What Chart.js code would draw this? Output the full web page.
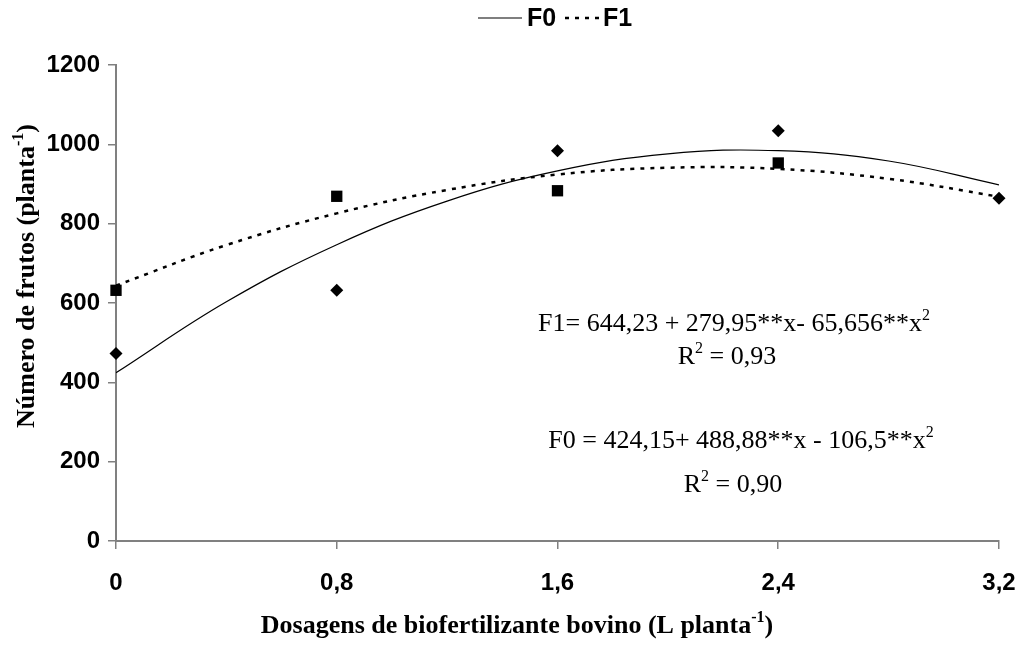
<!DOCTYPE html>
<html>
<head>
<meta charset="utf-8">
<script src="https://cdn.jsdelivr.net/npm/chart.js@4"></script>
<style>
  html, body { margin: 0; padding: 0; background: #fff; }
  #wrap { width: 1025px; height: 646px; position: relative; }
</style>
</head>
<body>
<div id="wrap"><canvas id="chart"></canvas></div>
<script>
// observed doses (L planta-1) and fruit counts
// (the F1 mark at 3,2 is hidden under the F0 diamond in the original)
const doses = [0, 0.8, 1.6, 2.4, 3.2];
const f0Obs = [473, 632, 984, 1034, 864];
const f1Obs = [632, 869, 883, 953, null];

// fitted curves, every 0.4 L
const curveX = [0, 0.4, 0.8, 1.2, 1.6, 2.0, 2.4, 2.8, 3.2];
const f0Fit = [424, 603, 747, 857, 933, 976, 984, 958, 898];
const f1Fit = [644, 746, 826, 885, 924, 941, 938, 913, 868];

const yTicks = [0, 200, 400, 600, 800, 1000, 1200];

const SANS = "'Liberation Sans', Arial, sans-serif";
const SERIF = "'Liberation Serif', 'Times New Roman', serif";
const AXIS_GREY = '#808080';

const pts = (xs, ys) => xs.map((x, i) => ({ x, y: ys[i] }));

// draw a line of text with superscript pieces, centred on cx
const drawRich = (ctx, parts, cx, y, size, weight) => {
    const base = `${weight} ${size}px ${SERIF}`;
    const sup = `${weight} ${Math.round(size * 0.62)}px ${SERIF}`;
    let total = 0;
    parts.forEach(p => {
        ctx.font = p.sup ? sup : base;
        total += ctx.measureText(p.t).width;
    });
    let x = cx - total / 2;
    ctx.textAlign = 'left';
    ctx.textBaseline = 'alphabetic';
    parts.forEach(p => {
        ctx.font = p.sup ? sup : base;
        ctx.fillText(p.t, x, p.sup ? y - size * 0.42 : y);
        x += ctx.measureText(p.t).width;
    });
};

const decorPlugin = {
    id: 'decor',
    afterDraw(chart) {
        const ctx = chart.ctx;
        ctx.save();
        ctx.fillStyle = '#000';

        // legend
        ctx.strokeStyle = '#000';
        ctx.lineWidth = 1.2;
        ctx.beginPath();
        ctx.moveTo(478, 18);
        ctx.lineTo(522, 18);
        ctx.stroke();
        ctx.font = `bold 25px ${SANS}`;
        ctx.textAlign = 'left';
        ctx.textBaseline = 'middle';
        ctx.fillText('F0', 527, 19);
        ctx.lineWidth = 2.5;
        ctx.setLineDash([4, 6]);
        ctx.beginPath();
        ctx.moveTo(565, 18);
        ctx.lineTo(601, 18);
        ctx.stroke();
        ctx.setLineDash([]);
        ctx.fillText('F1', 603, 19);

        // equations
        drawRich(ctx, [{ t: 'F1= 644,23 + 279,95**x- 65,656**x' }, { t: '2', sup: true }], 734, 331, 26, 'normal');
        drawRich(ctx, [{ t: 'R' }, { t: '2', sup: true }, { t: ' = 0,93' }], 727, 364, 26, 'normal');
        drawRich(ctx, [{ t: 'F0 = 424,15+ 488,88**x - 106,5**x' }, { t: '2', sup: true }], 741, 448, 26, 'normal');
        drawRich(ctx, [{ t: 'R' }, { t: '2', sup: true }, { t: ' = 0,90' }], 733, 492, 26, 'normal');

        // axis titles
        drawRich(ctx, [{ t: 'Dosagens de biofertilizante bovino (L planta' }, { t: '-1', sup: true }, { t: ')' }], 517, 633, 26, 'bold');
        ctx.translate(34, 276);
        ctx.rotate(-Math.PI / 2);
        drawRich(ctx, [{ t: 'Número de frutos (planta' }, { t: '-1', sup: true }, { t: ')' }], 0, 0, 26, 'bold');
        ctx.restore();
    }
};

new Chart(document.getElementById('chart'), {
    type: 'scatter',
    data: {
        datasets: [
            {
                label: 'F0',
                data: pts(doses, f0Obs),
                pointStyle: 'rectRot',
                pointRadius: 6.5,
                backgroundColor: '#000',
                borderColor: '#000',
                borderWidth: 0,
                clip: false
            },
            {
                label: 'F1',
                data: pts(doses, f1Obs),
                pointStyle: 'rect',
                pointRadius: 8,
                backgroundColor: '#000',
                borderColor: '#000',
                borderWidth: 0,
                clip: false
            },
            {
                label: 'F0 ajuste',
                type: 'line',
                data: pts(curveX, f0Fit),
                showLine: true,
                pointRadius: 0,
                borderColor: '#000',
                borderWidth: 1.2,
                tension: 0.4,
                fill: false
            },
            {
                label: 'F1 ajuste',
                type: 'line',
                data: pts(curveX, f1Fit),
                showLine: true,
                pointRadius: 0,
                borderColor: '#000',
                borderWidth: 2.5,
                borderDash: [4, 6],
                tension: 0.4,
                fill: false
            }
        ]
    },
    options: {
        responsive: true,
        maintainAspectRatio: false,
        animation: false,
        layout: { padding: { left: 0, right: 26, top: 65, bottom: 0 } },
        plugins: {
            legend: { display: false },
            tooltip: { enabled: false }
        },
        scales: {
            x: {
                type: 'linear',
                min: 0,
                max: 3.2,
                afterFit: (s) => { s.height = 105; s.paddingRight = 0; },
                afterBuildTicks: (s) => { s.ticks = doses.map(v => ({ value: v })); },
                ticks: {
                    color: '#000',
                    font: { family: SANS, size: 24, weight: 'bold' },
                    padding: 20,
                    maxRotation: 0,
                    callback: (v) => v === 0 ? '0' : v.toFixed(1).replace('.', ',')
                },
                grid: { drawOnChartArea: false, drawTicks: true, tickLength: 8, color: AXIS_GREY, lineWidth: 1.5 },
                border: { display: true, color: AXIS_GREY, width: 2 }
            },
            y: {
                min: 0,
                max: 1200,
                afterFit: (s) => { s.width = 116; },
                afterBuildTicks: (s) => { s.ticks = yTicks.map(v => ({ value: v })); },
                ticks: {
                    color: '#000',
                    font: { family: SANS, size: 24, weight: 'bold' },
                    padding: 8,
                    callback: (v) => String(v)
                },
                grid: { drawOnChartArea: false, drawTicks: true, tickLength: 8, color: AXIS_GREY, lineWidth: 1.5 },
                border: { display: true, color: AXIS_GREY, width: 2 }
            }
        }
    },
    plugins: [decorPlugin]
});
</script>
</body>
</html>
